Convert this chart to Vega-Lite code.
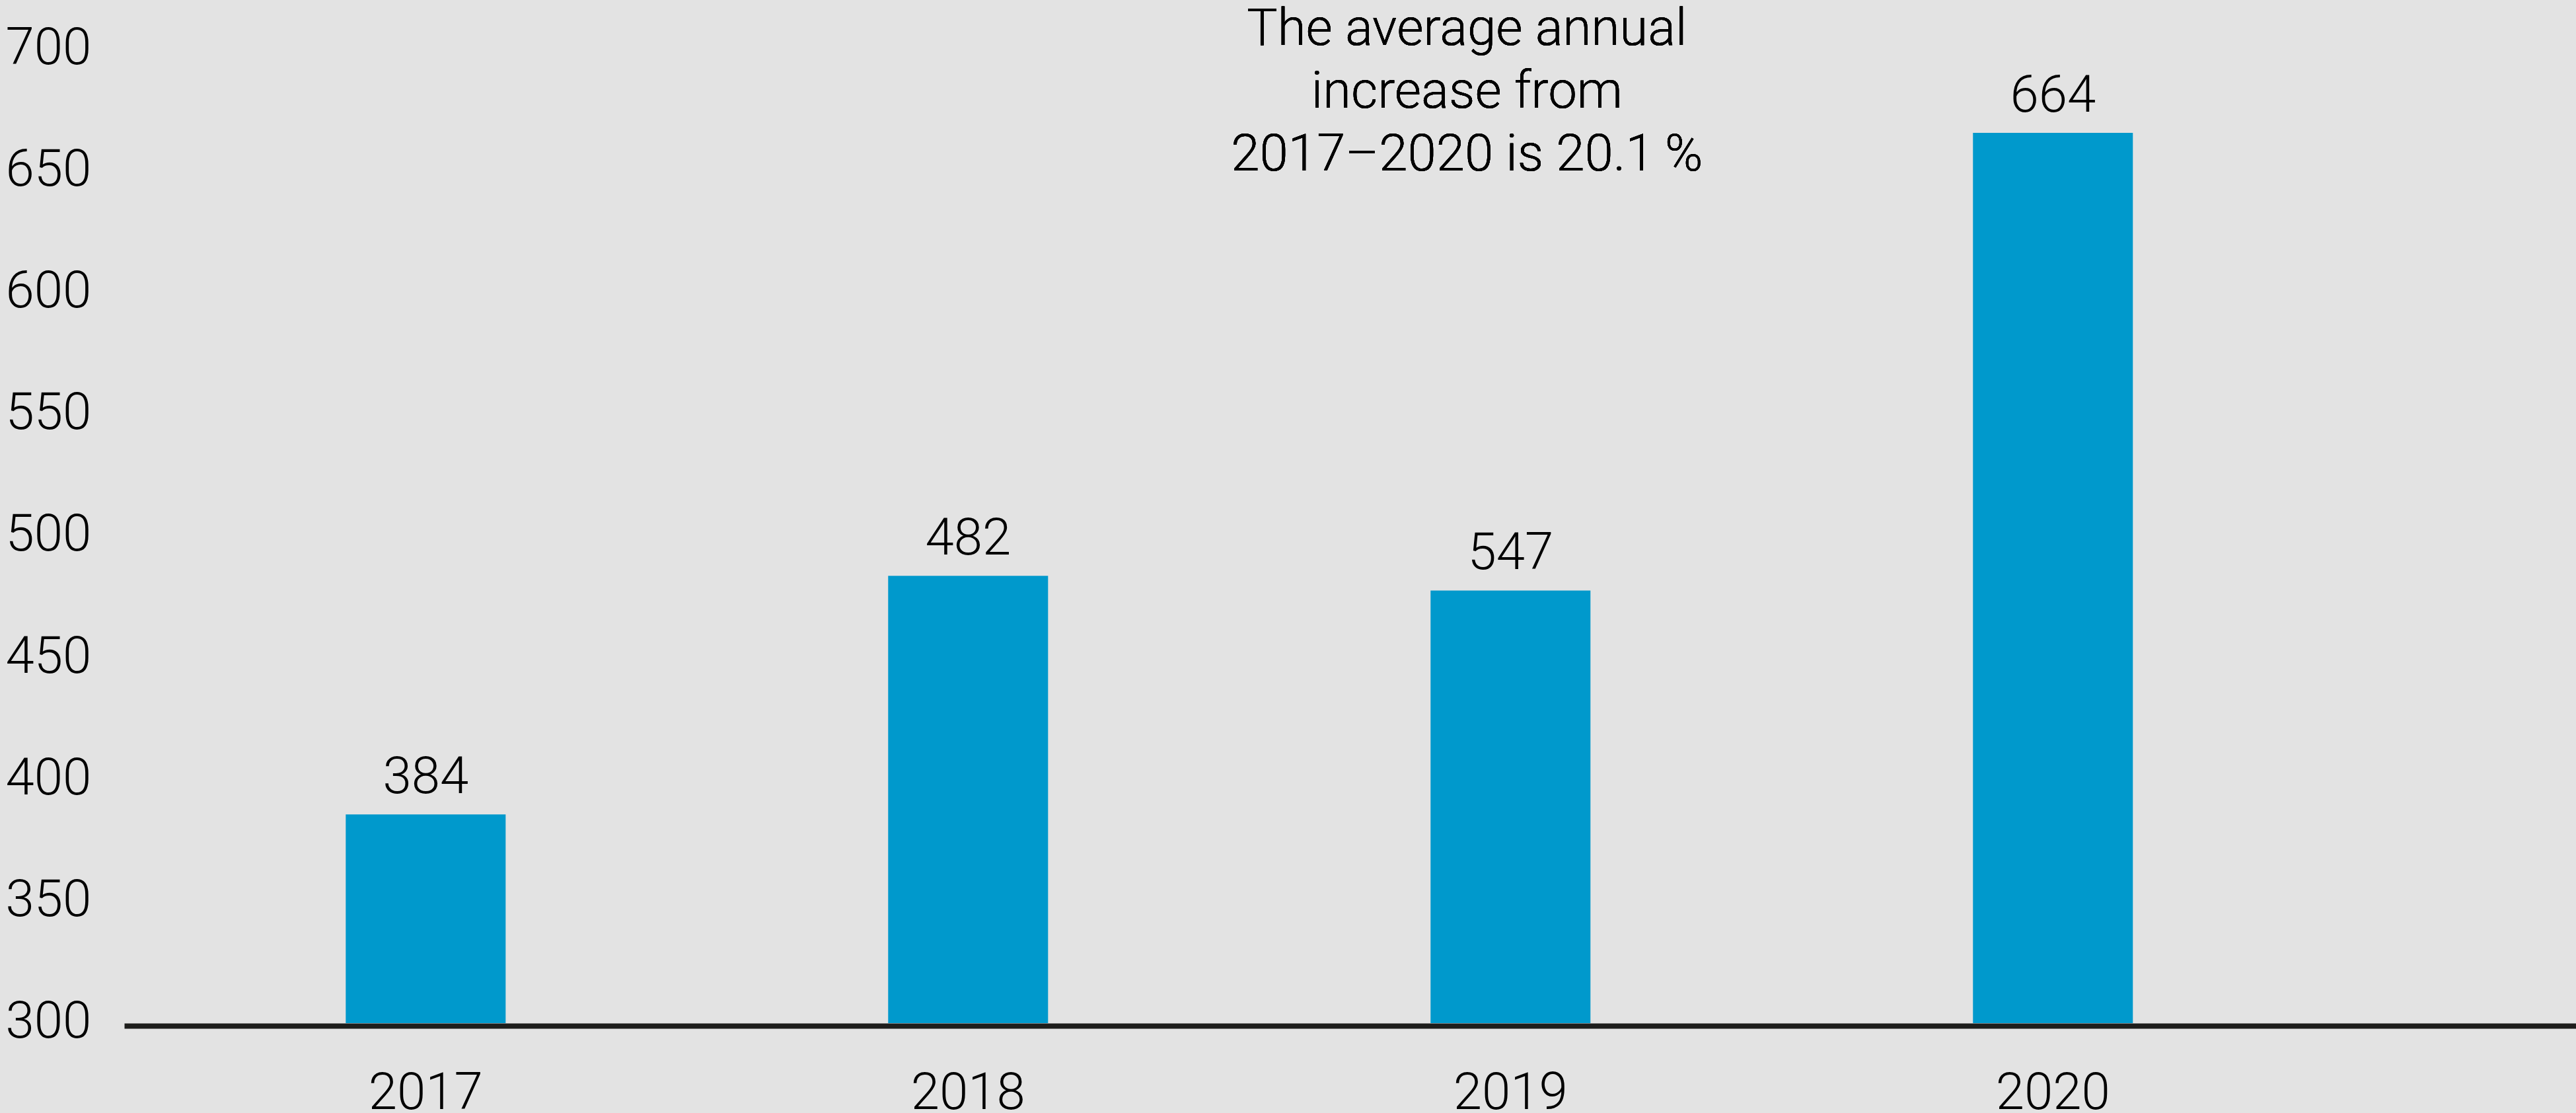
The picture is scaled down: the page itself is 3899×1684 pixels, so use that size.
{
  "$schema": "https://vega.github.io/schema/vega-lite/v6.json",
  "autosize": "none",
  "width": 3711,
  "height": 1548,
  "padding": {"left": 188, "top": 0, "right": 0, "bottom": 136},
  "background": "#e3e3e3",
  "config": {
    "view": {"stroke": null},
    "font": "Roboto",
    "axis": {"labelFont": "Roboto", "labelFontWeight": 300, "labelFontSize": 78, "labelColor": "#000000", "title": null}
  },
  "data": {
    "values": [
      {"year": "2017", "value": 384, "label": "384"},
      {"year": "2018", "value": 482, "label": "482"},
      {"year": "2019", "value": 476, "label": "547"},
      {"year": "2020", "value": 664, "label": "664"}
    ]
  },
  "encoding": {
    "x": {
      "field": "year",
      "type": "nominal",
      "sort": null,
      "scale": {"type": "band", "paddingInner": 0.7052, "paddingOuter": 0.6127, "align": 0.3333},
      "axis": {
        "title": null,
        "labelAngle": 0,
        "ticks": false,
        "tickSize": 0,
        "labelPadding": 63,
        "labelBaseline": "top",
        "domain": true,
        "domainColor": "#1d1d1b",
        "domainWidth": 8,
        "offset": 4,
        "grid": false
      }
    },
    "y": {
      "field": "value",
      "type": "quantitative",
      "scale": {"domain": [298.235, 718.6], "nice": false, "zero": false},
      "axis": {
        "title": null,
        "values": [300, 350, 400, 450, 500, 550, 600, 650, 700],
        "domain": false,
        "ticks": false,
        "tickSize": 0,
        "grid": false,
        "labelAlign": "left",
        "labelPadding": 180,
        "labelBaseline": "middle",
        "labelOffset": 5
      }
    }
  },
  "layer": [
    {
      "mark": {"type": "bar", "color": "#0099cc"},
      "encoding": {"y2": {"datum": 298.235}}
    },
    {
      "mark": {"type": "text", "baseline": "alphabetic", "align": "center", "dy": -32, "fontSize": 78, "fontWeight": 300, "color": "#000000", "font": "Roboto"},
      "encoding": {"text": {"field": "label"}}
    },
    {
      "mark": {
        "type": "text",
        "baseline": "alphabetic",
        "align": "center",
        "dx": -66,
        "fontSize": 78,
        "fontWeight": 300,
        "lineHeight": 95,
        "color": "#000000",
        "font": "Roboto",
        "text": ["The average annual", "increase from", "2017\u20132020 is 20.1\u2009%"]
      },
      "encoding": {
        "x": {"datum": "2019"},
        "y": {"datum": 700},
        "text": null
      }
    }
  ]
}
